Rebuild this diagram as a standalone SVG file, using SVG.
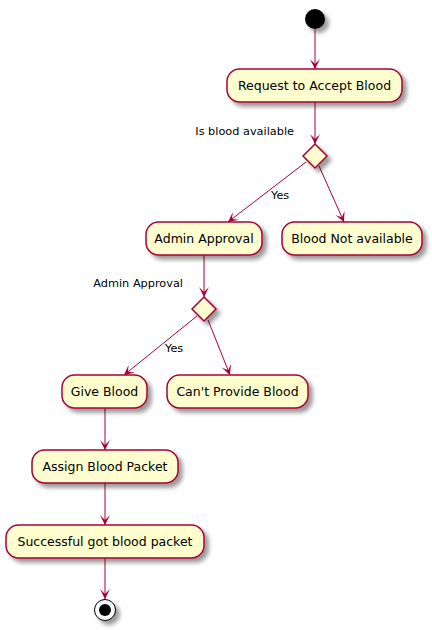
<svg xmlns="http://www.w3.org/2000/svg" width="432" height="630" viewBox="0 0 432 630">
<defs>
<filter id="sh" x="-20%" y="-20%" width="160%" height="180%">
<feGaussianBlur in="SourceAlpha" stdDeviation="2" result="b"/>
<feOffset in="b" dx="4" dy="4" result="o"/>
<feComponentTransfer in="o" result="o2"><feFuncA type="linear" slope="0.4"/></feComponentTransfer>
<feMerge><feMergeNode in="o2"/><feMergeNode in="SourceGraphic"/></feMerge>
</filter>
<marker id="ah" viewBox="0 -6 11 12" markerWidth="11" markerHeight="12" markerUnits="userSpaceOnUse" refX="10" refY="0" orient="auto">
<path d="M0,-5 L10,0 L0,5 L5,0 Z" fill="#A80036"/>
</marker>
</defs>
<style>
.act rect{fill:#FEFECE;stroke:#A80036;stroke-width:1.5}
.dia polygon{fill:#FEFECE;stroke:#A80036;stroke-width:1.5}
.t{font-family:"DejaVu Sans",sans-serif;font-size:12.5px;fill:#000;text-anchor:middle}
.l{font-family:"DejaVu Sans",sans-serif;font-size:11.3px;fill:#000}
#connectors line{stroke:#A80036;stroke-width:1;marker-end:url(#ah)}
</style>
<rect width="432" height="630" fill="#FFFFFF"/>
<g id="start"><circle cx="315" cy="19" r="10" fill="#000" filter="url(#sh)"/></g>
<g id="connectors">
<line x1="315" y1="29" x2="315" y2="69"/>
<line x1="315" y1="102" x2="315" y2="144"/>
<line x1="306" y1="162" x2="228" y2="222"/>
<line x1="319" y1="166" x2="344" y2="222"/>
<line x1="204" y1="255" x2="204" y2="297"/>
<line x1="197" y1="316" x2="124" y2="375"/>
<line x1="208" y1="320" x2="230" y2="375"/>
<line x1="105" y1="408" x2="105" y2="450"/>
<line x1="105" y1="483" x2="105" y2="525"/>
<line x1="105" y1="558" x2="105" y2="599"/>
</g>
<g id="request" class="act"><rect x="227" y="69" width="175" height="33" rx="12.5" filter="url(#sh)"/><text class="t" x="314.5" y="90">Request to Accept Blood</text></g>
<g id="decision1" class="dia"><polygon points="315,144 327,156 315,168 303,156" filter="url(#sh)"/><text class="l" x="294" y="135" text-anchor="end">Is blood available</text></g>
<text class="l" x="271" y="199">Yes</text>
<g id="admin" class="act"><rect x="146" y="222" width="116" height="33" rx="12.5" filter="url(#sh)"/><text class="t" x="204" y="243">Admin Approval</text></g>
<g id="notavail" class="act"><rect x="282" y="222" width="140" height="33" rx="12.5" filter="url(#sh)"/><text class="t" x="352" y="243">Blood Not available</text></g>
<g id="decision2" class="dia"><polygon points="204,297 216,309 204,321 192,309" filter="url(#sh)"/><text class="l" x="183" y="287" text-anchor="end">Admin Approval</text></g>
<text class="l" x="165" y="352">Yes</text>
<g id="give" class="act"><rect x="62" y="375" width="85" height="33" rx="12.5" filter="url(#sh)"/><text class="t" x="104.5" y="396">Give Blood</text></g>
<g id="cant" class="act"><rect x="167" y="375" width="141" height="33" rx="12.5" filter="url(#sh)"/><text class="t" x="237.5" y="396">Can't Provide Blood</text></g>
<g id="assign" class="act"><rect x="32" y="450" width="146" height="33" rx="12.5" filter="url(#sh)"/><text class="t" x="105" y="471">Assign Blood Packet</text></g>
<g id="success" class="act"><rect x="6" y="525" width="198" height="33" rx="12.5" filter="url(#sh)"/><text class="t" x="105" y="546">Successful got blood packet</text></g>
<g id="end"><circle cx="105" cy="610" r="10.5" fill="#FFFFFF" stroke="#000" stroke-width="1" filter="url(#sh)"/><circle cx="105" cy="610" r="6" fill="#000"/></g>
</svg>
